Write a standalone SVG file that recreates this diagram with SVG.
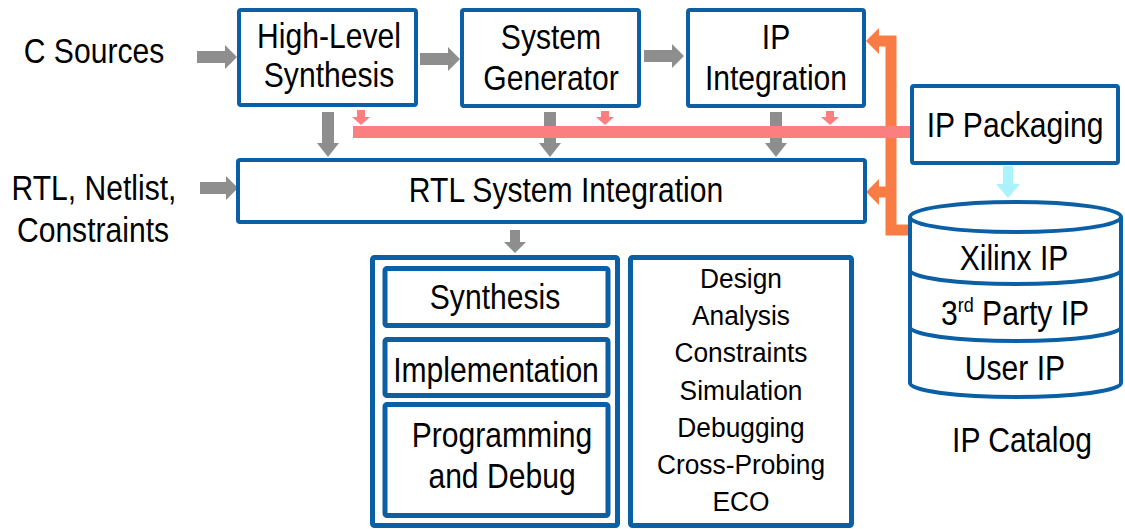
<svg xmlns="http://www.w3.org/2000/svg" width="1125" height="529" viewBox="0 0 1125 529">
<style>
.t{font-family:"Liberation Sans",Arial,sans-serif;font-size:35px;fill:#000;text-anchor:middle}
.s{font-family:"Liberation Sans",Arial,sans-serif;font-size:28px;fill:#000;text-anchor:middle}
.box{fill:#fff;stroke:#0b5fa5;stroke-width:4}
.bx5{fill:#fff;stroke:#0b5fa5;stroke-width:5}
.cyl{fill:#fff;stroke:#0b5fa5;stroke-width:4}
.gray{fill:#8e8e8e}
.pink{fill:#fb7f7f}
.orange{fill:#f97c44}
.cyan{fill:#aaf2fc}
</style>
<rect width="1125" height="529" fill="#fff"/>

<g id="connectors">
  <polygon class="gray" points="197,51 225,51 225,45 237,57 225,69 225,63 197,63"/>
  <polygon class="gray" points="420,53 448,53 448,47 460,59 448,71 448,65 420,65"/>
  <polygon class="gray" points="644,50 672,50 672,44 684,56 672,68 672,62 644,62"/>
  <polygon class="gray" points="200,182 226,182 226,176 238,188 226,200 226,194 200,194"/>
  <polygon class="gray" points="322,112 334,112 334,143 339,143 328,157 317,143 322,143"/>
  <polygon class="gray" points="544,112 556,112 556,143 561,143 550,157 539,143 544,143"/>
  <polygon class="gray" points="770,112 782,112 782,143 787,143 776,157 765,143 770,143"/>
  <polygon class="gray" points="510,230 520,230 520,242 526,242 515,253 504,242 510,242"/>
  <path d="M876,41 H891 V230 H911" fill="none" stroke="#f97c44" stroke-width="11"/>
  <path d="M876,192 H891" fill="none" stroke="#f97c44" stroke-width="11"/>
  <polygon class="orange" points="866,41 879,28 879,54"/>
  <polygon class="orange" points="866,192 879,179 879,205"/>
  <rect class="pink" x="353" y="126" width="557" height="12"/>
  <polygon class="pink" points="357,110 365,110 365,117 370,117 361,125 352,117 357,117"/>
  <polygon class="pink" points="601,111 609,111 609,117 614,117 605,125 596,117 601,117"/>
  <polygon class="pink" points="826,111 834,111 834,117 839,117 830,125 821,117 826,117"/>
  <polygon class="cyan" points="1003,166 1013,166 1013,184 1020,184 1008,198 996,184 1003,184"/>
</g>

<g id="c-sources"><text class="t" transform="translate(94,63) scale(.86,1)">C Sources</text></g>
<g id="rtl-inputs">
  <text class="t" transform="translate(94,200) scale(.86,1)">RTL, Netlist,</text>
  <text class="t" transform="translate(93,242) scale(.86,1)">Constraints</text>
</g>

<g id="hls">
  <rect class="box" x="239" y="10" width="177" height="95" rx="2"/>
  <text class="t" transform="translate(329,48) scale(.86,1)">High-Level</text>
  <text class="t" transform="translate(329,87) scale(.86,1)">Synthesis</text>
</g>
<g id="sysgen">
  <rect class="box" x="462" y="10" width="177" height="96" rx="2"/>
  <text class="t" transform="translate(551,49) scale(.86,1)">System</text>
  <text class="t" transform="translate(551,90) scale(.86,1)">Generator</text>
</g>
<g id="ipi">
  <rect class="box" x="688" y="10" width="176" height="96" rx="2"/>
  <text class="t" transform="translate(776,49) scale(.86,1)">IP</text>
  <text class="t" transform="translate(776,90) scale(.86,1)">Integration</text>
</g>
<g id="rtl-sys">
  <rect class="box" x="238" y="160" width="627" height="62" rx="2"/>
  <text class="t" transform="translate(566,202) scale(.86,1)">RTL System Integration</text>
</g>
<g id="ip-packaging">
  <rect class="box" x="912" y="86" width="206" height="77" rx="2"/>
  <text class="t" transform="translate(1015,137) scale(.86,1)">IP Packaging</text>
</g>

<g id="flow">
  <rect class="bx5" x="372.5" y="257.5" width="245" height="268" rx="2"/>
  <g id="synthesis">
    <rect class="bx5" x="385" y="268.5" width="223" height="57" rx="2"/>
    <text class="t" transform="translate(495,309) scale(.86,1)">Synthesis</text>
  </g>
  <g id="implementation">
    <rect class="bx5" x="385" y="339.5" width="223" height="56" rx="2"/>
    <text class="t" transform="translate(496,382) scale(.86,1)">Implementation</text>
  </g>
  <g id="programming">
    <rect class="bx5" x="385" y="404.5" width="223" height="111" rx="2"/>
    <text class="t" transform="translate(502,447) scale(.86,1)">Programming</text>
    <text class="t" transform="translate(502,488) scale(.86,1)">and Debug</text>
  </g>
</g>

<g id="analysis">
  <rect class="bx5" x="630.5" y="257.5" width="221" height="268" rx="2"/>
  <text class="s" transform="translate(741,288) scale(.94,1)">Design</text>
  <text class="s" transform="translate(741,325) scale(.94,1)">Analysis</text>
  <text class="s" transform="translate(741,362) scale(.94,1)">Constraints</text>
  <text class="s" transform="translate(741,400) scale(.94,1)">Simulation</text>
  <text class="s" transform="translate(741,437) scale(.94,1)">Debugging</text>
  <text class="s" transform="translate(741,474) scale(.94,1)">Cross-Probing</text>
  <text class="s" transform="translate(741,511) scale(.94,1)">ECO</text>
</g>

<g id="ip-catalog">
  <path class="cyl" d="M910,217 V383 A105.5,14 0 0 0 1121,383 V217"/>
  <ellipse class="cyl" cx="1015.5" cy="217" rx="105.5" ry="15"/>
  <path class="cyl" fill="none" d="M910,270 A105.5,14 0 0 0 1121,270"/>
  <path class="cyl" fill="none" d="M910,327 A105.5,14 0 0 0 1121,327"/>
  <text class="t" transform="translate(1014,270) scale(.86,1)">Xilinx IP</text>
  <text class="t" transform="translate(1015,325) scale(.86,1)">3<tspan font-size="21" dy="-13">rd</tspan><tspan dy="13"> Party IP</tspan></text>
  <text class="t" transform="translate(1015,380) scale(.86,1)">User IP</text>
  <text class="t" transform="translate(1022,452) scale(.86,1)">IP Catalog</text>
</g>
</svg>
